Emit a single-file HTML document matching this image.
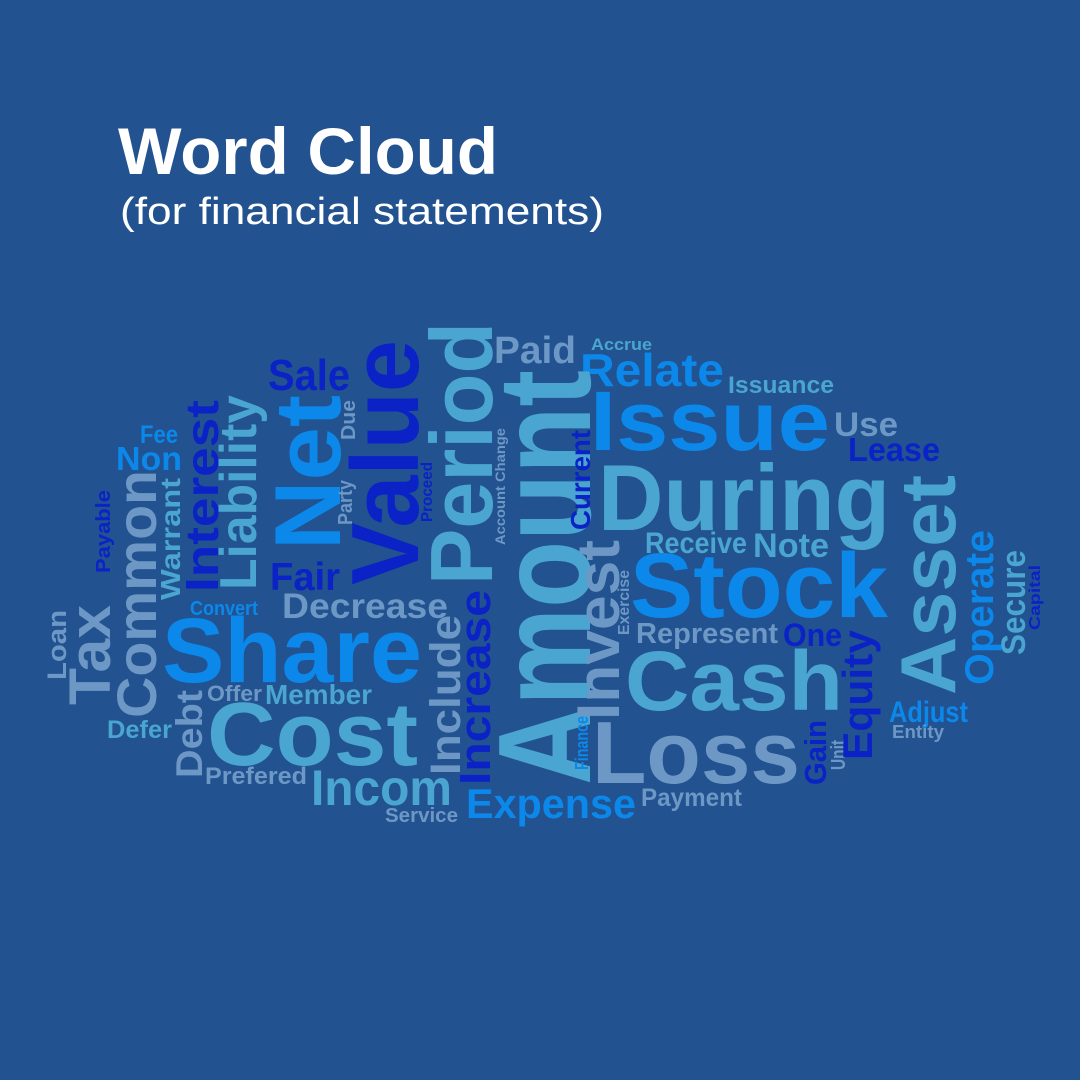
<!DOCTYPE html>
<html><head><meta charset="utf-8"><style>
html,body{margin:0;padding:0;background:#22528f;}
svg{display:block}
text{font-family:"Liberation Sans",sans-serif;font-weight:bold}
.C{fill:#4aa5d0}.B{fill:#0c88ea}.D{fill:#0a22c6}.G{fill:#6d98c6}
</style></head><body>
<svg width="1080" height="1080" viewBox="0 0 1080 1080" xmlns="http://www.w3.org/2000/svg">
<rect width="1080" height="1080" fill="#22528f"/>
<text x="118" y="174" font-size="66" fill="#fff" textLength="380" lengthAdjust="spacingAndGlyphs">Word Cloud</text>
<text x="120" y="224" font-size="38" fill="#fff" style="font-weight:normal" textLength="484" lengthAdjust="spacingAndGlyphs">(for financial statements)</text>
<g>
<text class="D" x="268" y="390" font-size="44" textLength="82" lengthAdjust="spacingAndGlyphs">Sale</text>
<text class="G" x="494" y="363" font-size="38" textLength="82" lengthAdjust="spacingAndGlyphs">Paid</text>
<text class="C" x="591" y="350" font-size="17" textLength="61" lengthAdjust="spacingAndGlyphs">Accrue</text>
<text class="B" x="580" y="386" font-size="46" textLength="144" lengthAdjust="spacingAndGlyphs">Relate</text>
<text class="C" x="728" y="393" font-size="24" textLength="106" lengthAdjust="spacingAndGlyphs">Issuance</text>
<text class="B" x="590" y="450" font-size="84" textLength="240" lengthAdjust="spacingAndGlyphs">Issue</text>
<text class="G" x="834" y="436" font-size="34" textLength="64" lengthAdjust="spacingAndGlyphs">Use</text>
<text class="D" x="848" y="461" font-size="33" textLength="92" lengthAdjust="spacingAndGlyphs">Lease</text>
<text class="C" x="598" y="530" font-size="94" textLength="292" lengthAdjust="spacingAndGlyphs">During</text>
<text class="C" x="645" y="553" font-size="30" textLength="102" lengthAdjust="spacingAndGlyphs">Receive</text>
<text class="C" x="753" y="557" font-size="34" textLength="76" lengthAdjust="spacingAndGlyphs">Note</text>
<text class="B" x="630" y="617" font-size="92" textLength="258" lengthAdjust="spacingAndGlyphs">Stock</text>
<text class="G" x="636" y="643" font-size="29" textLength="142" lengthAdjust="spacingAndGlyphs">Represent</text>
<text class="D" x="783" y="646" font-size="32" textLength="59" lengthAdjust="spacingAndGlyphs">One</text>
<text class="C" x="625" y="710" font-size="84" textLength="218" lengthAdjust="spacingAndGlyphs">Cash</text>
<text class="G" x="592" y="783" font-size="88" textLength="208" lengthAdjust="spacingAndGlyphs">Loss</text>
<text class="B" x="889" y="722" font-size="30" textLength="79" lengthAdjust="spacingAndGlyphs">Adjust</text>
<text class="G" x="892" y="738" font-size="18" textLength="52" lengthAdjust="spacingAndGlyphs">Entity</text>
<text class="G" x="641" y="806" font-size="25" textLength="101" lengthAdjust="spacingAndGlyphs">Payment</text>
<text class="B" x="466" y="818" font-size="42" textLength="170" lengthAdjust="spacingAndGlyphs">Expense</text>
<text class="G" x="385" y="822" font-size="20" textLength="73" lengthAdjust="spacingAndGlyphs">Service</text>
<text class="C" x="311" y="805" font-size="50" textLength="141" lengthAdjust="spacingAndGlyphs">Incom</text>
<text class="G" x="205" y="784" font-size="24" textLength="102" lengthAdjust="spacingAndGlyphs">Prefered</text>
<text class="C" x="207" y="765" font-size="90" textLength="211" lengthAdjust="spacingAndGlyphs">Cost</text>
<text class="C" x="265" y="704" font-size="28" textLength="107" lengthAdjust="spacingAndGlyphs">Member</text>
<text class="G" x="207" y="701" font-size="22" textLength="55" lengthAdjust="spacingAndGlyphs">Offer</text>
<text class="C" x="107" y="738" font-size="25" textLength="65" lengthAdjust="spacingAndGlyphs">Defer</text>
<text class="B" x="162" y="682" font-size="92" textLength="260" lengthAdjust="spacingAndGlyphs">Share</text>
<text class="B" x="190" y="615" font-size="20" textLength="68" lengthAdjust="spacingAndGlyphs">Convert</text>
<text class="G" x="282" y="618" font-size="35" textLength="166" lengthAdjust="spacingAndGlyphs">Decrease</text>
<text class="D" x="270" y="590" font-size="39" textLength="70" lengthAdjust="spacingAndGlyphs">Fair</text>
<text class="B" x="140" y="443" font-size="25" textLength="38" lengthAdjust="spacingAndGlyphs">Fee</text>
<text class="B" x="116" y="470" font-size="33" textLength="66" lengthAdjust="spacingAndGlyphs">Non</text>
<text class="G" transform="translate(66,680) rotate(-90)" font-size="27" textLength="70" lengthAdjust="spacingAndGlyphs">Loan</text>
<text class="G" transform="translate(110,705) rotate(-90)" font-size="58" textLength="100" lengthAdjust="spacingAndGlyphs">Tax</text>
<text class="G" transform="translate(156,718) rotate(-90)" font-size="56" textLength="248" lengthAdjust="spacingAndGlyphs">Common</text>
<text class="D" transform="translate(110,573) rotate(-90)" font-size="20" textLength="83" lengthAdjust="spacingAndGlyphs">Payable</text>
<text class="C" transform="translate(180,600) rotate(-90)" font-size="28" textLength="122" lengthAdjust="spacingAndGlyphs">Warrant</text>
<text class="D" transform="translate(218,592) rotate(-90)" font-size="46" textLength="192" lengthAdjust="spacingAndGlyphs">Interest</text>
<text class="C" transform="translate(256,590) rotate(-90)" font-size="52" textLength="195" lengthAdjust="spacingAndGlyphs">Liability</text>
<text class="B" transform="translate(340,550) rotate(-90)" font-size="94" textLength="155" lengthAdjust="spacingAndGlyphs">Net</text>
<text class="G" transform="translate(355,440) rotate(-90)" font-size="20" textLength="40" lengthAdjust="spacingAndGlyphs">Due</text>
<text class="G" transform="translate(352,525) rotate(-90)" font-size="20" textLength="45" lengthAdjust="spacingAndGlyphs">Party</text>
<text class="D" transform="translate(418,585) rotate(-90)" font-size="96" textLength="245" lengthAdjust="spacingAndGlyphs">Value</text>
<text class="G" transform="translate(202,778) rotate(-90)" font-size="37" textLength="88" lengthAdjust="spacingAndGlyphs">Debt</text>
<text class="D" transform="translate(432,522) rotate(-90)" font-size="16" textLength="60" lengthAdjust="spacingAndGlyphs">Proceed</text>
<text class="C" transform="translate(492,585) rotate(-90)" font-size="88" textLength="263" lengthAdjust="spacingAndGlyphs">Period</text>
<text class="G" transform="translate(460,775) rotate(-90)" font-size="43" textLength="160" lengthAdjust="spacingAndGlyphs">Include</text>
<text class="D" transform="translate(490,785) rotate(-90)" font-size="44" textLength="195" lengthAdjust="spacingAndGlyphs">Increase</text>
<text class="G" transform="translate(505,545) rotate(-90)" font-size="14" textLength="117" lengthAdjust="spacingAndGlyphs">Account Change</text>
<text class="C" transform="translate(590,785) rotate(-90)" font-size="132" textLength="415" lengthAdjust="spacingAndGlyphs">Amount</text>
<text class="D" transform="translate(590,530) rotate(-90)" font-size="28" textLength="100" lengthAdjust="spacingAndGlyphs">Current</text>
<text class="G" transform="translate(619,720) rotate(-90)" font-size="60" textLength="180" lengthAdjust="spacingAndGlyphs">Invest</text>
<text class="G" transform="translate(629,635) rotate(-90)" font-size="16" textLength="65" lengthAdjust="spacingAndGlyphs">Exercise</text>
<text class="B" transform="translate(588,770) rotate(-90)" font-size="18" textLength="54" lengthAdjust="spacingAndGlyphs">Finance</text>
<text class="D" transform="translate(826,785) rotate(-90)" font-size="31" textLength="65" lengthAdjust="spacingAndGlyphs">Gain</text>
<text class="G" transform="translate(845,770) rotate(-90)" font-size="20" textLength="30" lengthAdjust="spacingAndGlyphs">Unit</text>
<text class="D" transform="translate(872,760) rotate(-90)" font-size="42" textLength="130" lengthAdjust="spacingAndGlyphs">Equity</text>
<text class="C" transform="translate(955,695) rotate(-90)" font-size="78" textLength="220" lengthAdjust="spacingAndGlyphs">Asset</text>
<text class="B" transform="translate(993,685) rotate(-90)" font-size="40" textLength="155" lengthAdjust="spacingAndGlyphs">Operate</text>
<text class="C" transform="translate(1025,655) rotate(-90)" font-size="34" textLength="105" lengthAdjust="spacingAndGlyphs">Secure</text>
<text class="D" transform="translate(1040,630) rotate(-90)" font-size="16" textLength="65" lengthAdjust="spacingAndGlyphs">Capital</text>
</g>
</svg>
</body></html>
